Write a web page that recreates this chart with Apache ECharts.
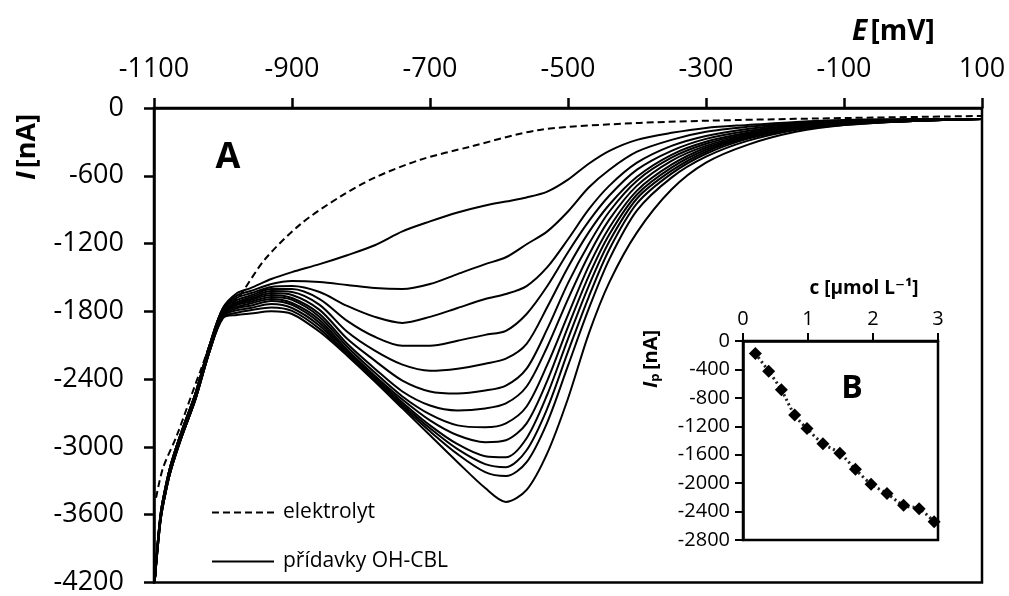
<!DOCTYPE html>
<html><head><meta charset="utf-8">
<script src="https://cdn.jsdelivr.net/npm/echarts@6/dist/echarts.min.js"></script>
<style>html,body{margin:0;padding:0;background:#fff}#c{width:1009px;height:596px}</style>
</head><body><div id="c"></div>
<script>
const E_GRID = [-1099,-1095,-1090,-1083,-1075,-1060,-1040,-1020,-1000,-980,-960,-930,-900,-860,-820,-780,-740,-700,-660,-620,-590,-560,-530,-500,-470,-440,-400,-350,-300,-240,-170,-100,0,100];
const CURVE_1  = [-4182,-3870,-3575,-3346,-3143,-2862,-2527,-2110,-1770,-1640,-1594,-1514,-1453,-1382,-1303,-1215,-1092,-1004,-925,-863,-828,-792,-740,-634,-493,-379,-282,-220,-176,-150,-123,-106,-97,-97];
const CURVE_2  = [-4191,-3870,-3575,-3346,-3143,-2862,-2527,-2110,-1770,-1660,-1620,-1558,-1532,-1541,-1567,-1594,-1603,-1558,-1470,-1382,-1321,-1206,-1092,-916,-704,-546,-387,-282,-211,-167,-132,-114,-106,-97];
const CURVE_3  = [-4200,-3870,-3575,-3346,-3143,-2862,-2527,-2110,-1775,-1680,-1640,-1585,-1576,-1629,-1752,-1849,-1902,-1849,-1770,-1691,-1647,-1576,-1409,-1162,-898,-687,-484,-335,-247,-185,-141,-123,-106,-97];
const CURVE_4  = [-4191,-3870,-3575,-3346,-3143,-2862,-2527,-2110,-1780,-1700,-1660,-1603,-1603,-1691,-1884,-2025,-2104,-2104,-2060,-2008,-1972,-1823,-1576,-1277,-1004,-775,-546,-379,-273,-203,-150,-123,-106,-97];
const CURVE_5  = [-4200,-3892,-3601,-3372,-3170,-2888,-2553,-2140,-1800,-1718,-1675,-1620,-1629,-1743,-1981,-2148,-2272,-2325,-2307,-2263,-2219,-2087,-1761,-1409,-1101,-854,-608,-414,-299,-220,-158,-132,-106,-97];
const CURVE_6  = [-4191,-3892,-3601,-3372,-3170,-2888,-2553,-2140,-1805,-1727,-1690,-1638,-1655,-1787,-2043,-2236,-2413,-2509,-2527,-2501,-2457,-2307,-1955,-1550,-1206,-916,-643,-440,-317,-229,-167,-132,-106,-97];
const CURVE_7  = [-4200,-3892,-3601,-3372,-3170,-2888,-2553,-2140,-1810,-1736,-1700,-1655,-1682,-1823,-2087,-2307,-2509,-2633,-2677,-2659,-2615,-2465,-2113,-1691,-1303,-986,-687,-467,-335,-238,-167,-132,-106,-97];
const CURVE_8  = [-4191,-3892,-3601,-3372,-3170,-2888,-2553,-2140,-1815,-1745,-1715,-1673,-1699,-1849,-2113,-2342,-2553,-2712,-2809,-2826,-2791,-2642,-2272,-1831,-1400,-1057,-731,-502,-352,-247,-176,-132,-114,-97];
const CURVE_9  = [-4200,-3892,-3601,-3372,-3170,-2888,-2553,-2140,-1820,-1760,-1730,-1691,-1726,-1876,-2140,-2369,-2580,-2765,-2897,-2958,-2941,-2791,-2413,-1937,-1488,-1118,-766,-528,-370,-255,-176,-141,-114,-97];
const CURVE_10 = [-4191,-3918,-3628,-3399,-3196,-2914,-2580,-2165,-1835,-1772,-1750,-1708,-1743,-1902,-2157,-2386,-2606,-2809,-2976,-3082,-3091,-2923,-2536,-2043,-1576,-1180,-801,-555,-387,-264,-185,-141,-114,-97];
const CURVE_11 = [-4200,-3918,-3628,-3399,-3196,-2914,-2580,-2165,-1840,-1790,-1770,-1735,-1770,-1928,-2175,-2404,-2624,-2835,-3020,-3152,-3179,-3029,-2659,-2157,-1673,-1250,-845,-581,-405,-273,-185,-141,-114,-97];
const CURVE_12 = [-4191,-3918,-3628,-3399,-3196,-2914,-2580,-2165,-1850,-1812,-1790,-1765,-1796,-1955,-2184,-2413,-2642,-2862,-3064,-3223,-3258,-3135,-2782,-2281,-1779,-1338,-907,-616,-431,-291,-194,-150,-114,-97];
const CURVE_13 = [-4200,-3918,-3628,-3399,-3196,-2914,-2580,-2165,-1860,-1832,-1820,-1800,-1823,-1981,-2192,-2421,-2659,-2897,-3135,-3364,-3487,-3381,-3055,-2571,-1999,-1541,-1101,-722,-484,-326,-211,-150,-114,-97];
const ELEKTROLYT_E = [-1097,-1087,-1067,-1033,-1004,-972,-939,-888,-830,-780,-714,-642,-541,-396,-251,-91,100];
const ELEKTROLYT_I = [-3450,-3187,-2900,-2330,-1880,-1629,-1338,-1030,-784,-616,-458,-343,-194,-132,-106,-88,-70];
const INSET_C  = [0.19,0.395,0.59,0.795,0.985,1.23,1.49,1.73,1.97,2.215,2.47,2.71,2.94];
const INSET_IP = [-175,-426,-687,-1042,-1232,-1445,-1578,-1805,-2014,-2146,-2312,-2360,-2544];
const X_TICKS = [-1100,-900,-700,-500,-300,-100,100];
const SOLID = [CURVE_1,CURVE_2,CURVE_3,CURVE_4,CURVE_5,CURVE_6,CURVE_7,CURVE_8,CURVE_9,CURVE_10,CURVE_11,CURVE_12,CURVE_13];

const FONT = '"Open Sans", "DejaVu Sans", sans-serif';
const chart = echarts.init(document.getElementById('c'), null, {renderer:'canvas'});
const axisLine = {show:true, onZero:false, lineStyle:{color:'#000', width:2.5}};
const plain = v => String(v);
const series = [];
series.push({
  name:'elektrolyt', type:'line', xAxisIndex:0, yAxisIndex:0, symbol:'none', smooth:0.3,
  data: ELEKTROLYT_E.map((e,i)=>[e, ELEKTROLYT_I[i]]),
  itemStyle:{color:'#000'},
  lineStyle:{color:'#000', width:2, type:[7,4]}, z:3
});
SOLID.forEach(arr => series.push({
  name:'přídavky OH-CBL', type:'line', xAxisIndex:0, yAxisIndex:0, symbol:'none', smooth:0.3,
  data: E_GRID.map((e,i)=>[e, arr[i]]),
  itemStyle:{color:'#000'},
  lineStyle:{color:'#000', width:2}, z:2
}));
series.push({
  name:'inset', type:'line', xAxisIndex:1, yAxisIndex:1, symbol:'diamond', symbolSize:13, smooth:0.3,
  data: INSET_C.map((c,i)=>[c, INSET_IP[i]]),
  itemStyle:{color:'#000'}, lineStyle:{color:'#222', width:3, type:[2,3]}
});

const dashIcon = 'path://M0 0h7v2h-7zM11 0h7v2h-7zM22 0h7v2h-7zM33 0h7v2h-7zM44 0h7v2h-7zM55 0h7v2h-7z';
const solidIcon = 'path://M0 0h62v2h-62z';

chart.setOption({
  animation:false,
  backgroundColor:'#fff',
  grid:[
    {left:154, top:108, width:828, height:477, show:true, borderColor:'#000', borderWidth:2.5, backgroundColor:'transparent'},
    {left:743, top:341, width:195, height:199, show:true, borderColor:'#000', borderWidth:2.5, backgroundColor:'#fff'}
  ],
  xAxis:[
    {type:'value', gridIndex:0, position:'top', min:-1100, max:100,
     axisLine, axisTick:{show:true, inside:false, length:10, lineStyle:{color:'#000', width:2.5}, customValues:X_TICKS},
     axisLabel:{fontSize:27, fontFamily:FONT, color:'#000', margin:25, customValues:X_TICKS, formatter:plain},
     splitLine:{show:false}},
    {type:'value', gridIndex:1, position:'top', min:0, max:3, interval:1,
     axisLine, axisTick:{show:true, length:8, lineStyle:{color:'#000', width:2}},
     axisLabel:{fontSize:20, fontFamily:FONT, color:'#000', margin:12, formatter:plain},
     splitLine:{show:false}}
  ],
  yAxis:[
    {type:'value', gridIndex:0, min:-4200, max:0, interval:600,
     axisLine, axisTick:{show:true, length:10, lineStyle:{color:'#000', width:2.5}},
     axisLabel:{fontSize:27, fontFamily:FONT, color:'#000', margin:30, formatter:plain},
     splitLine:{show:false}},
    {type:'value', gridIndex:1, min:-2800, max:0, interval:400,
     axisLine, axisTick:{show:true, length:8, lineStyle:{color:'#000', width:2}},
     axisLabel:{fontSize:20, fontFamily:FONT, color:'#000', margin:13, formatter:plain},
     splitLine:{show:false}}
  ],
  legend:{
    data:[{name:'elektrolyt', icon:dashIcon},{name:'přídavky OH-CBL', icon:solidIcon}],
    orient:'vertical', left:207, top:497,
    itemWidth:66, itemHeight:2, itemGap:28,
    itemStyle:{color:'#000'},
    textStyle:{fontSize:21, fontFamily:FONT, color:'#000', padding:[0,0,0,2]}
  },
  series,
  graphic:[
    {type:'text', left:852, top:18, style:{text:'{a|E} {b|[mV]}', rich:{
      a:{fontSize:28, fontStyle:'italic', fontWeight:'bold', fontFamily:FONT, fill:'#000'},
      b:{fontSize:28, fontWeight:'bold', fontFamily:FONT, fill:'#000'}}}},
    {type:'text', x:27, y:147, rotation:Math.PI/2, style:{text:'{a|I} {b|[nA]}', align:'center', verticalAlign:'middle', rich:{
      a:{fontSize:27, fontStyle:'italic', fontWeight:'bold', fontFamily:FONT, fill:'#000'},
      b:{fontSize:27, fontWeight:'bold', fontFamily:FONT, fill:'#000'}}}},
    {type:'text', x:228, y:158, style:{text:'A', fontSize:36, fontWeight:'bold', fontFamily:FONT, fill:'#000', align:'center', verticalAlign:'middle'}},
    {type:'text', x:852, y:389, style:{text:'B', fontSize:32, fontWeight:'bold', fontFamily:FONT, fill:'#000', align:'center', verticalAlign:'middle'}},
    {type:'text', x:864, y:289, style:{text:'c [µmol L⁻¹]', fontSize:19, fontWeight:'bold', fontFamily:FONT, fill:'#000', align:'center', verticalAlign:'middle'}},
    {type:'text', x:651, y:359, rotation:Math.PI/2, style:{text:'{a|I}{s|p} {b|[nA]}', align:'center', verticalAlign:'middle', rich:{
      a:{fontSize:20, fontStyle:'italic', fontWeight:'bold', fontFamily:FONT, fill:'#000'},
      s:{fontSize:13, fontWeight:'bold', fontFamily:FONT, fill:'#000', verticalAlign:'bottom', padding:[8,0,0,0]},
      b:{fontSize:20, fontWeight:'bold', fontFamily:FONT, fill:'#000'}}}}
  ]
});
</script></body></html>
